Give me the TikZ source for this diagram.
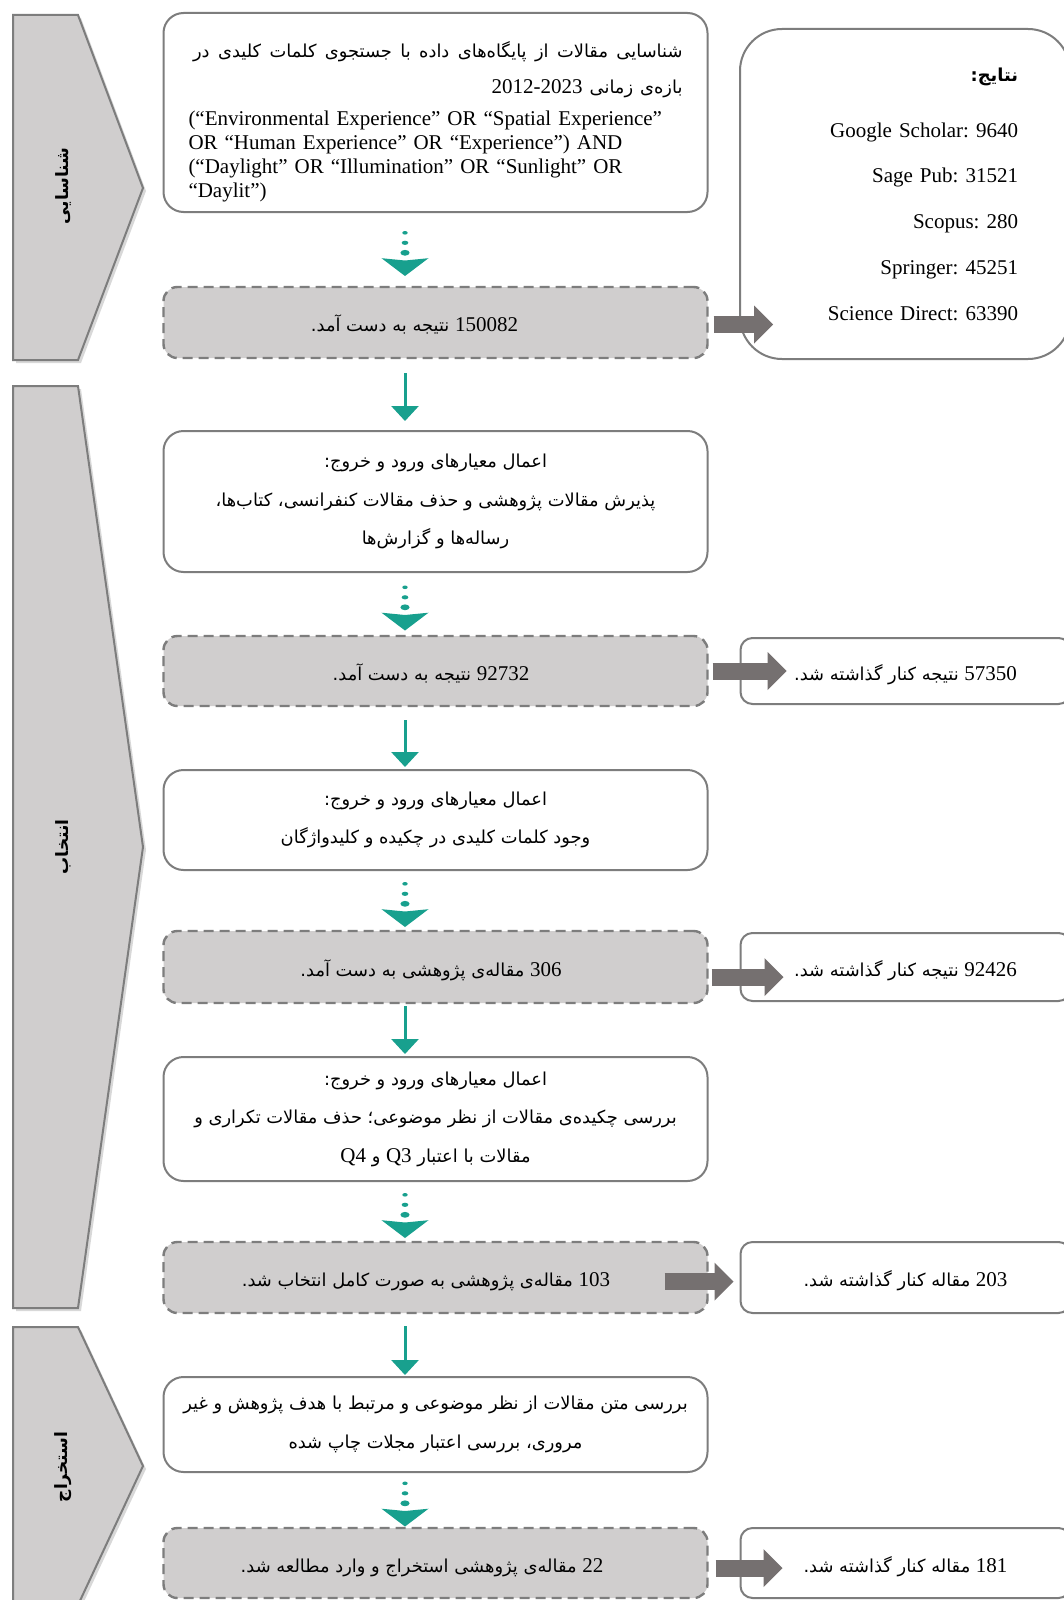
\documentclass[tikz,border=0pt]{standalone}
\usepackage{fontspec}
\setmainfont{Liberation Serif}
\newfontfamily\persianfont[Script=Arabic,Scale=0.85]{DejaVu Sans}
\TeXXeTstate=1
\frenchspacing
\usepackage{tikz}
\usetikzlibrary{calc}
\usetikzlibrary{positioning}
\usetikzlibrary{arrows.meta}
\usetikzlibrary{shadows}
\definecolor{tealc}{RGB}{24,160,142}
\definecolor{edgegray}{RGB}{125,125,125}
\definecolor{stagegray}{RGB}{208,206,206}
\definecolor{arrowgray}{RGB}{117,112,112}
\newcommand{\fatext}[1]{{\persianfont\beginR #1\endR}}
\newcommand{\lnum}[1]{\beginL{\rmfamily #1}\endL}

\begin{document}
\begin{tikzpicture}[x=0.5pt,y=-0.5pt,
		font=\fontsize{10.5}{12}\selectfont,
		stage/.style={draw=edgegray,line width=1pt,fill=stagegray,
			drop shadow={opacity=0.3,shadow xshift=1.5pt,shadow yshift=-1.5pt}},
		stagelabel/.style={rotate=90,font=\fontsize{10}{12}\selectfont\bfseries},
		textbox/.style={rectangle,draw=edgegray,line width=1pt,fill=white,rounded corners=10pt,
			minimum width=272pt,inner sep=0pt,outer sep=0pt,align=center,font=\fontsize{10.5}{19.2}\selectfont},
		countbox/.style={rectangle,draw=edgegray,line width=1.2pt,dash pattern=on 5pt off 3pt,
			fill=stagegray,rounded corners=7pt,minimum width=272pt,inner sep=0pt,outer sep=0pt,
			text height=9.5pt,text depth=0.5pt},
		dropbox/.style={rectangle,draw=edgegray,line width=1pt,fill=white,rounded corners=6pt,
			minimum width=165pt,inner sep=0pt,outer sep=0pt},
		droptext/.style={dropbox,text height=9.5pt,text depth=0.5pt},
		tealdown/.style={color=tealc,line width=1.5pt,-{Triangle[length=7.5pt,width=13.5pt]}},
		blockarrow/.style={color=arrowgray,line width=8.5pt,-{Triangle[length=9.5pt,width=19pt,line width=0pt]}},
		dotarrow/.pic={
			\fill[tealc] (0,-16.7) ellipse [x radius=1.35pt,y radius=0.9pt];
			\fill[tealc] (0,-6.7) ellipse [x radius=1.65pt,y radius=1.05pt];
			\fill[tealc] (0,3.3) ellipse [x radius=2.3pt,y radius=1.45pt];
			\fill[tealc] (-23.5,8.7) -- (0,11) -- (23.5,8.7) -- (0,26.5) -- cycle;
		}]
		\path[use as bounding box,fill=white] (0,0) rectangle (1064,1600);
		\coordinate (ax) at (405,0);
		
		% stages
		\path[stage] (13,15) -- (78,15) -- (143,188) -- (78,360) -- (13,360) -- cycle;
		\path[stage] (13,386) -- (78,386) -- (143,847) -- (78,1308) -- (13,1308) -- cycle;
		\path[stage] (13,1327) -- (78,1327) -- (143,1466) -- (78,1605) -- (13,1605) -- cycle;
		\node[stagelabel] (s1) at (63,186) {\fatext{شناسایی}};
		\node[stagelabel] (s2) at (63,847) {\fatext{انتخاب}};
		\node[stagelabel] (s3) at (63,1467) {\fatext{استخراج}};
		
		\node[textbox,minimum height=99.5pt] (b1) at (435.5,112.5) {};
		\node[align=left,text width=247pt,inner sep=0pt] (b1text) at ([yshift=-4.6pt]b1.center)
			{\hfill\fatext{\spaceskip=4.2pt plus 1pt شناسایی مقالات از پایگاه^^^^200cهای داده با جستجوی کلمات کلیدی در}\\[6pt]
			\hfill\fatext{بازه^^^^200cی زمانی \lnum{2012-2023}}\\[4pt]
			(“Environmental Experience” OR “Spatial Experience”\\
			OR “Human Experience” OR “Experience”) AND\\
			(“Daylight” OR “Illumination” OR “Sunlight” OR\\
			“Daylit”)};
		\node[countbox,minimum height=35.5pt] (g1) [below=37.5pt of b1] {\fatext{\lnum{150082} نتیجه به دست آمد.}\hspace*{21pt}};
		\node[textbox,minimum height=70.5pt] (b2) [below=36.5pt of g1] {\fatext{اعمال معیارهای ورود و خروج:}\\
			\fatext{پذیرش مقالات پژوهشی و حذف مقالات کنفرانسی، کتاب^^^^200cها،}\\
			\fatext{رساله^^^^200cها و گزارش^^^^200cها}};
		\node[countbox,minimum height=35pt] (g2) [below=32pt of b2] {\fatext{\lnum{92732} نتیجه به دست آمد.}\hspace*{4.5pt}};
		\node[textbox,minimum height=50pt] (b3) [below=32pt of g2] {\fatext{اعمال معیارهای ورود و خروج:}\\
			\fatext{وجود کلمات کلیدی در چکیده و کلیدواژگان}};
		\node[countbox,minimum height=36pt] (g3) [below=30.5pt of b3] {\fatext{\lnum{306} مقاله^^^^200cی پژوهشی به دست آمد.}\hspace*{4.5pt}};
		\node[textbox,minimum height=62pt] (b4) [below=27pt of g3] {\fatext{اعمال معیارهای ورود و خروج:}\\
			\fatext{بررسی چکیده^^^^200cی مقالات از نظر موضوعی؛ حذف مقالات تکراری و}\\
			\fatext{مقالات با اعتبار \lnum{Q3} و \lnum{Q4}}};
		\node[countbox,minimum height=35.5pt] (g4) [below=30.5pt of b4] {\fatext{\lnum{103} مقاله^^^^200cی پژوهشی به صورت کامل انتخاب شد.}\hspace*{9.5pt}};
		\node[textbox,minimum height=47.5pt] (b5) [below=32pt of g4] {\fatext{بررسی متن مقالات از نظر موضوعی و مرتبط با هدف پژوهش و غیر}\\
			\fatext{مروری، بررسی اعتبار مجلات چاپ شده}};
		\node[countbox,minimum height=35pt] (g5) [below=28pt of b5] {\fatext{\lnum{22} مقاله^^^^200cی پژوهشی استخراج و وارد مطالعه شد.}\hspace*{13.5pt}};
		
		\node[dropbox,rounded corners=21pt,minimum height=165pt,text width=113pt,align=right]
			(res) at (905,194) {\fatext{\bfseries نتایج:}\\[16pt]
			Google Scholar: 9640\\[10.9pt]
			Sage Pub: 31521\\[10.9pt]
			Scopus: 280\\[10.9pt]
			Springer: 45251\\[10.9pt]
			Science Direct: 63390};
		\node[droptext,minimum height=33pt] (d1) [right=16.5pt of g2] {\fatext{\lnum{57350} نتیجه کنار گذاشته شد.}};
		\node[droptext,minimum height=34pt] (d2) [right=16.5pt of g3] {\fatext{\lnum{92426} نتیجه کنار گذاشته شد.}};
		\node[droptext,minimum height=35.5pt] (d3) [right=16.5pt of g4] {\fatext{\lnum{203} مقاله کنار گذاشته شد.}};
		\node[droptext,minimum height=35pt] (d4) [right=16.5pt of g5] {\fatext{\lnum{181} مقاله کنار گذاشته شد.}};
		
		\foreach \a/\b in {b1/g1,b2/g2,b3/g3,b4/g4,b5/g5}
			\path ($(\a.south -| ax)!0.5!(\b.north -| ax)$) pic {dotarrow};
		
		\path[tealdown]
		(g1.south -| ax) edge[shorten <=7.5pt,shorten >=5pt] (b2.north -| ax)
		(g2.south -| ax) edge[shorten <=7pt,shorten >=1.5pt] (b3.north -| ax)
		(g3.south -| ax) edge[shorten <=1.5pt,shorten >=1.5pt] (b4.north -| ax)
		(g4.south -| ax) edge[shorten <=6.5pt,shorten >=1pt] (b5.north -| ax);
		
		\path[blockarrow]
		([xshift=3pt,yshift=-1pt]g1.east) edge ($(g1.east -| res.west)+(33,2)$)
		([xshift=2.5pt]g2.east) edge ([xshift=23pt]d1.west |- g2.east)
		([xshift=2pt,yshift=-5pt]g3.east) edge ([xshift=21.5pt,yshift=-5pt]d2.west)
		([xshift=-21.5pt,yshift=-2pt]g4.east) edge ([xshift=-3.5pt,yshift=-2pt]d3.west)
		([xshift=4pt,yshift=-2.5pt]g5.east) edge ([xshift=21pt,yshift=-2.5pt]d4.west);
\end{tikzpicture}
\end{document}
